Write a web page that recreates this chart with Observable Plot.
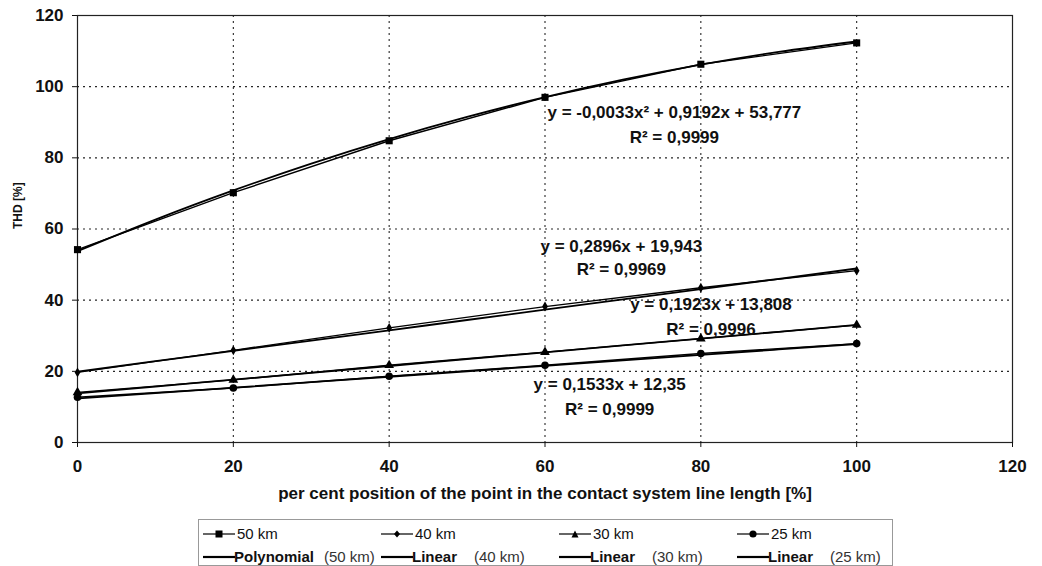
<!DOCTYPE html>
<html><head><meta charset="utf-8">
<script src="https://cdn.jsdelivr.net/npm/d3@7"></script>
<script src="https://cdn.jsdelivr.net/npm/@observablehq/plot@0.6"></script>
<style>
body{margin:0;background:#fff;font-family:"Liberation Sans",Arial,sans-serif;color:#111;}
#chart{position:absolute;left:0;top:0;}
#legend{position:absolute;left:198px;top:519px;width:695px;height:47px;border:1px solid #999;box-sizing:border-box;}
.item{position:absolute;height:20px;display:block;}
.item svg{position:absolute;left:0;top:4px;}
.lab{position:absolute;top:1px;font-size:15px;white-space:nowrap;}
.nb{font-family:"Liberation Sans Narrow","Arial Narrow","Liberation Sans",sans-serif;font-stretch:condensed;font-weight:bold;font-size:15px;}
.nr{font-family:"Liberation Sans Narrow","Arial Narrow","Liberation Sans",sans-serif;font-stretch:condensed;font-size:15px;color:#333;}
</style></head>
<body><div id="chart"></div><div id="legend"></div>
<script>
// ---- data ----
const positions = [0, 20, 40, 60, 80, 100];
const seriesNames = ["50 km", "40 km", "30 km", "25 km"];
const thd50 = [54.2, 70.2, 84.8, 97.0, 106.3, 112.3];
const thd40 = [19.7, 25.9, 32.2, 38.2, 43.5, 48.3];
const thd30 = [14.1, 17.6, 21.7, 25.4, 29.2, 33.0];
const thd25 = [12.7, 15.3, 18.6, 21.7, 25.0, 27.8];
// trendline coefficients as printed on the chart
const poly50 = [-0.0033, 0.9192, 53.777];
const lin40 = [0.2896, 19.943];
const lin30 = [0.1923, 13.808];
const lin25 = [0.1533, 12.35];
const trendX = [0, 10, 20, 30, 40, 50, 60, 70, 80, 90, 100];
const eqLabels = ["y = -0,0033x² + 0,9192x + 53,777", "y = 0,2896x + 19,943", "y = 0,1923x + 13,808", "y = 0,1533x + 12,35"];
const r2Labels = ["R² = 0,9999", "R² = 0,9969", "R² = 0,9996", "R² = 0,9999"];
const labelX = [76.6, 69.8, 81.3, 68.3];
const eqY = [92.8, 55.2, 38.7, 16.3];
const r2Y = [85.7, 48.7, 31.7, 9.3];
const xTicks = [0, 20, 40, 60, 80, 100, 120];
const yTicks = [0, 20, 40, 60, 80, 100, 120];
const gridTicks = [20, 40, 60, 80, 100];
const xTitle = "per cent position of the point in the contact system line length [%]";
const yTitle = "THD [%]";
const trendNames = ["Polynomial", "Linear", "Linear", "Linear"];

// ---- build tables ----
const seriesVals = [thd50, thd40, thd30, thd25];
const rows = [];
seriesNames.forEach((s, i) => positions.forEach((p, j) => rows.push({series: s, x: p, y: seriesVals[i][j]})));
const trendRows = [];
trendX.forEach(x => trendRows.push({series: "50 km", x, y: poly50[0]*x*x + poly50[1]*x + poly50[2]}));
[[lin40, "40 km"], [lin30, "30 km"], [lin25, "25 km"]].forEach(([c, s]) =>
  trendX.forEach(x => trendRows.push({series: s, x, y: c[0]*x + c[1]})));
const ann = [];
eqLabels.forEach((t, i) => { ann.push({x: labelX[i], y: eqY[i], t}); ann.push({x: labelX[i], y: r2Y[i], t: r2Labels[i]}); });

const symbols = ["square", "diamond", "triangle", "circle"];
const radii = [4, 3, 3.6, 3.8];

const dotMarks = seriesNames.map((s, i) =>
  Plot.dot(rows.filter(d => d.series === s), {x: "x", y: "y", symbol: () => symbols[i], fill: "#000", stroke: "none", r: radii[i]}));

const chart = Plot.plot({
  width: 1042, height: 510,
  marginLeft: 77, marginRight: 30, marginTop: 15, marginBottom: 68,
  style: {fontFamily: "'Liberation Sans', Arial, sans-serif", fontSize: "17px", fontWeight: "bold", color: "#111", background: "transparent", overflow: "visible"},
  x: {domain: [0, 120]},
  y: {domain: [0, 120]},
  symbol: {domain: symbols, range: symbols},
  marks: [
    Plot.gridX({ticks: gridTicks, stroke: "#000", strokeOpacity: 0.85, strokeDasharray: "2,4", strokeWidth: 1.1}),
    Plot.gridY({ticks: gridTicks, stroke: "#000", strokeOpacity: 0.85, strokeDasharray: "2,4", strokeWidth: 1.1}),
    Plot.frame({stroke: "#222", strokeWidth: 1.2}),
    Plot.axisX({ticks: xTicks, tickSize: 5, tickPadding: 12, label: null, fontSize: 17, fontWeight: "bold"}),
    Plot.axisY({ticks: yTicks, tickSize: 5, tickPadding: 9, label: null, fontSize: 17, fontWeight: "bold"}),
    Plot.line(rows, {x: "x", y: "y", z: "series", stroke: "#000", strokeWidth: 1.4}),
    Plot.line(trendRows, {x: "x", y: "y", z: "series", stroke: "#000", strokeWidth: 1.8, curve: "natural"}),
    ...dotMarks,
    Plot.text(ann, {x: "x", y: "y", text: "t", fontSize: 17, fontWeight: "bold", fill: "#111"}),
    Plot.text([xTitle], {frameAnchor: "bottom", dy: 56, fontSize: 17, fontWeight: "bold", fill: "#111"}),
    Plot.text([yTitle], {frameAnchor: "left", dx: -59, rotate: -90, fontSize: 12, fontWeight: "bold", fill: "#111"})
  ]
});
document.getElementById("chart").appendChild(chart);

// ---- legend ----
const leg = document.getElementById("legend");
const colX = [4, 182, 360, 538];
function markerSvg(sym) {
  let m = "";
  if (sym === "square") m = '<rect x="12.5" y="2.5" width="7" height="7" fill="#000"/>';
  if (sym === "diamond") m = '<polygon points="16,2.5 19,6 16,9.5 13,6" fill="#000"/>';
  if (sym === "triangle") m = '<polygon points="16,2.5 19.5,9.5 12.5,9.5" fill="#000"/>';
  if (sym === "circle") m = '<circle cx="16" cy="6" r="3.6" fill="#000"/>';
  return '<svg width="32" height="12"><line x1="0" y1="6" x2="32" y2="6" stroke="#000" stroke-width="1.2"/>' + m + '</svg>';
}
seriesNames.forEach((s, i) => {
  const d = document.createElement("div");
  d.className = "item";
  d.style.left = colX[i] + "px"; d.style.top = "4px";
  d.innerHTML = markerSvg(symbols[i]) + '<span class="lab" style="left:34px">' + s + '</span>';
  leg.appendChild(d);
  const e = document.createElement("div");
  e.className = "item";
  e.style.left = colX[i] + "px"; e.style.top = "27px";
  const gap = trendNames[i] === "Polynomial" ? 121 : 93;
  e.innerHTML = '<svg width="32" height="12"><line x1="0" y1="6" x2="32" y2="6" stroke="#000" stroke-width="2.2"/></svg>' +
    '<span class="lab nb" style="left:31px">' + trendNames[i] + '</span>' +
    '<span class="lab nr" style="left:' + gap + 'px">(' + s + ')</span>';
  leg.appendChild(e);
});
</script></body></html>
